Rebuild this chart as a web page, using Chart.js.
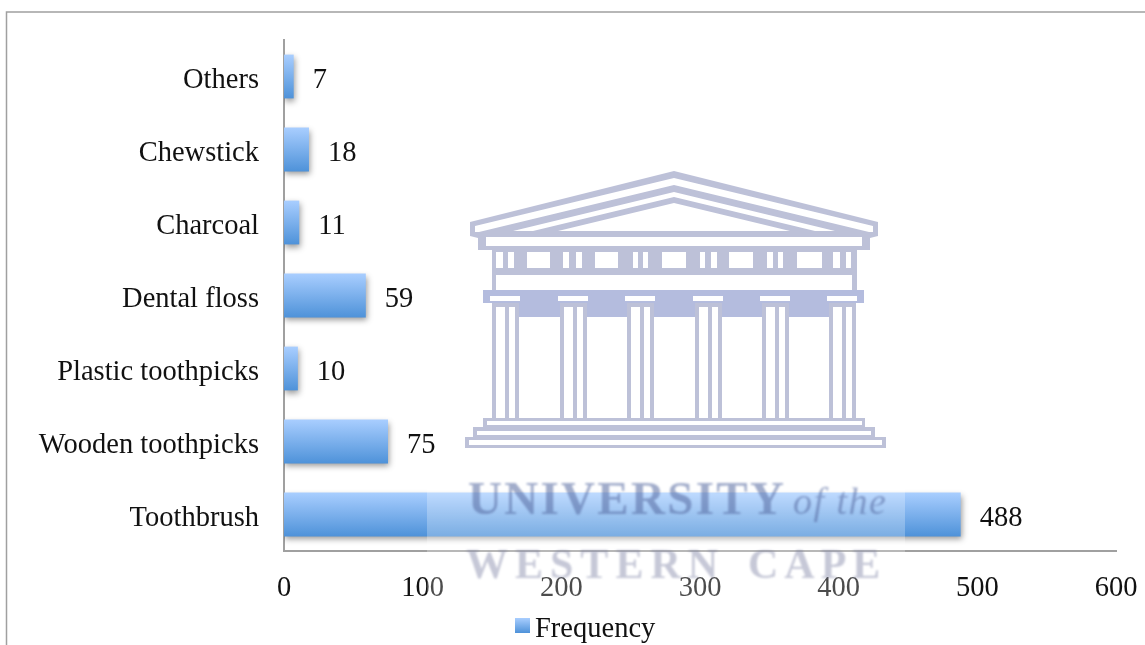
<!DOCTYPE html>
<html>
<head>
<meta charset="utf-8">
<script src="https://cdn.jsdelivr.net/npm/chart.js@4/dist/chart.umd.min.js"></script>
<style>
  html, body { margin: 0; padding: 0; background: #fff; overflow: hidden; }
  #wrap { width: 1145px; height: 645px; }
</style>
</head>
<body>
<div id="wrap"><canvas id="chart" width="1145" height="645"></canvas></div>
<script>
const categories = ['Others', 'Chewstick', 'Charcoal', 'Dental floss', 'Plastic toothpicks', 'Wooden toothpicks', 'Toothbrush'];
const frequency = [7, 18, 11, 59, 10, 75, 488];
const xTicks = [0, 100, 200, 300, 400, 500, 600];
const seriesName = 'Frequency';

const FONT = '"Liberation Serif", serif';
const FONT_SIZE = 28.5;
const TEMPLE = '#bdc1d8';

function barGradient(ctx, top, bottom) {
  const g = ctx.createLinearGradient(0, top, 0, bottom);
  g.addColorStop(0, '#a9ceff');
  g.addColorStop(1, '#4e92d9');
  return g;
}

// thin grey frame the chart sits in, cut off by the image on the right and bottom
const framePlugin = {
  id: 'frame',
  beforeDraw(chart) {
    const c = chart.ctx;
    c.save();
    c.strokeStyle = '#a0a0a0';
    c.lineWidth = 1.5;
    c.beginPath();
    c.moveTo(6.5, 645);
    c.lineTo(6.5, 12);
    c.lineTo(1145, 12);
    c.stroke();
    c.restore();
  }
};

// soft drop shadow under the bars
const shadowPlugin = {
  id: 'barShadow',
  beforeDatasetsDraw(chart) {
    const c = chart.ctx;
    c.save();
    c.shadowColor = 'rgba(0,0,0,0.4)';
    c.shadowBlur = 6;
    c.shadowOffsetX = 1;
    c.shadowOffsetY = 3;
  },
  afterDatasetsDraw(chart) {
    chart.ctx.restore();
  }
};

const valueLabels = {
  id: 'valueLabels',
  afterDatasetsDraw(chart) {
    const c = chart.ctx;
    const bars = chart.getDatasetMeta(0).data;
    c.save();
    c.font = FONT_SIZE + 'px ' + FONT;
    c.fillStyle = '#111';
    c.textAlign = 'left';
    c.textBaseline = 'middle';
    bars.forEach((bar, i) => {
      c.fillText(String(frequency[i]), bar.x + 19, bar.y + 4);
    });
    c.restore();
  }
};

// Chart.js puts a wide gap between legend box and text, so the legend is drawn here
const legendPlugin = {
  id: 'tightLegend',
  afterDraw(chart) {
    const c = chart.ctx;
    c.save();
    c.fillStyle = barGradient(c, 618, 633);
    c.fillRect(515, 618, 15, 15);
    c.font = FONT_SIZE + 'px ' + FONT;
    c.fillStyle = '#111';
    c.textAlign = 'left';
    c.textBaseline = 'middle';
    c.fillText(seriesName, 535, 630);
    c.restore();
  }
};

function rect(c, x1, y1, x2, y2, col) {
  c.fillStyle = col;
  c.fillRect(x1, y1, x2 - x1, y2 - y1);
}

function poly(c, pts, col) {
  c.fillStyle = col;
  c.beginPath();
  pts.forEach((p, i) => i ? c.lineTo(p[0], p[1]) : c.moveTo(p[0], p[1]));
  c.closePath();
  c.fill();
}

// university crest watermark laid over the finished chart
const watermark = {
  id: 'watermark',
  afterDraw(chart) {
    const c = chart.ctx;
    c.save();
    rect(c, 427, 460, 905, 610, 'rgba(255,255,255,0.25)');
    c.filter = 'blur(0.6px)';

    poly(c, [[674,171],[878,222],[878,236],[870,238],[870,250],[478,250],[478,238],[470,236],[470,222]], TEMPLE);
    poly(c, [[674,178],[873,226],[873,232],[869,232],[674,185],[479,232],[475,232],[475,226]], '#fff');
    poly(c, [[674,192],[835,231],[815,231],[674,197],[533,231],[513,231]], '#fff');
    poly(c, [[674,203],[790,231],[558,231]], '#fff');
    rect(c, 486, 237, 862, 246, '#fff');

    rect(c, 492, 246, 857, 293, TEMPLE);
    [[527,550],[595,618],[662,686],[729,753],[797,822],
     [496,503],[508,514],[563,569],[576,582],[633,638],[643,648],
     [700,705],[711,717],[767,773],[778,783],[833,840],[846,851]].forEach(w => {
      rect(c, w[0], 252, w[1], 268, '#fff');
    });
    rect(c, 496, 275, 852, 290, '#fff');

    rect(c, 483, 290, 864, 303, '#b4bcde');
    rect(c, 517, 303, 832, 317, '#b4bcde');
    [505, 573, 640, 708, 775, 842].forEach(x => {
      rect(c, x - 15, 296, x + 15, 301, '#fff');
      rect(c, x - 13, 303, x + 14, 418, TEMPLE);
      rect(c, x - 9, 307, x, 418, '#fff');
      rect(c, x + 4, 307, x + 10, 418, '#fff');
    });

    rect(c, 483, 418, 865, 427, TEMPLE);
    rect(c, 487, 421, 862, 425, '#fff');
    rect(c, 473, 427, 875, 437, TEMPLE);
    rect(c, 477, 431, 871, 435, '#fff');
    rect(c, 465, 437, 886, 448, TEMPLE);
    rect(c, 469, 440, 882, 445, '#fff');

    c.filter = 'blur(0.8px)';
    c.textBaseline = 'alphabetic';
    c.textAlign = 'left';
    c.fillStyle = 'rgba(85,105,160,0.55)';
    c.font = 'bold 47px ' + FONT;
    c.letterSpacing = '2.3px';
    c.fillText('UNIVERSITY', 468, 514);
    c.font = 'italic 38px ' + FONT;
    c.letterSpacing = '1.5px';
    c.fillText('of the', 793, 514);
    c.fillStyle = 'rgba(120,125,160,0.42)';
    c.font = 'bold 42px ' + FONT;
    c.letterSpacing = '7px';
    c.fillText('WESTERN', 466, 578);
    c.letterSpacing = '6px';
    c.fillText('CAPE', 748, 578);
    c.restore();
  }
};

new Chart(document.getElementById('chart'), {
  type: 'bar',
  data: {
    labels: categories,
    datasets: [{
      label: seriesName,
      data: frequency,
      barPercentage: 0.6,
      categoryPercentage: 1,
      backgroundColor(context) {
        const chart = context.chart;
        if (context.dataIndex === undefined || !chart.scales.y) return '#7aaee8';
        const cy = chart.scales.y.getPixelForValue(context.dataIndex);
        // scales have no pixels yet on the first pass before layout
        if (!Number.isFinite(cy)) return '#7aaee8';
        return barGradient(chart.ctx, cy - 22, cy + 22);
      }
    }]
  },
  options: {
    indexAxis: 'y',
    responsive: false,
    animation: false,
    layout: { padding: { left: 0, right: 29, top: 40, bottom: 0 } },
    scales: {
      x: {
        min: 0,
        max: 600,
        afterBuildTicks(axis) { axis.ticks = xTicks.map(v => ({ value: v })); },
        afterFit(axis) {
          axis.height = 94;
          axis.paddingLeft = 0;
          axis.paddingRight = 0;
        },
        grid: { display: false, drawTicks: false },
        border: { color: '#a0a0a0', width: 2 },
        ticks: { color: '#111', font: { family: FONT, size: FONT_SIZE }, padding: 20, maxRotation: 0, align: 'center' }
      },
      y: {
        afterFit(axis) {
          axis.width = 284;
          axis.paddingTop = 0;
          axis.paddingBottom = 0;
        },
        grid: { display: false, drawTicks: false },
        border: { color: '#a0a0a0', width: 2 },
        ticks: { color: '#111', font: { family: FONT, size: FONT_SIZE }, padding: 25, labelOffset: 4 }
      }
    },
    plugins: {
      tooltip: { enabled: false },
      legend: { display: false }
    }
  },
  plugins: [framePlugin, shadowPlugin, valueLabels, legendPlugin, watermark]
});
</script>
</body>
</html>
